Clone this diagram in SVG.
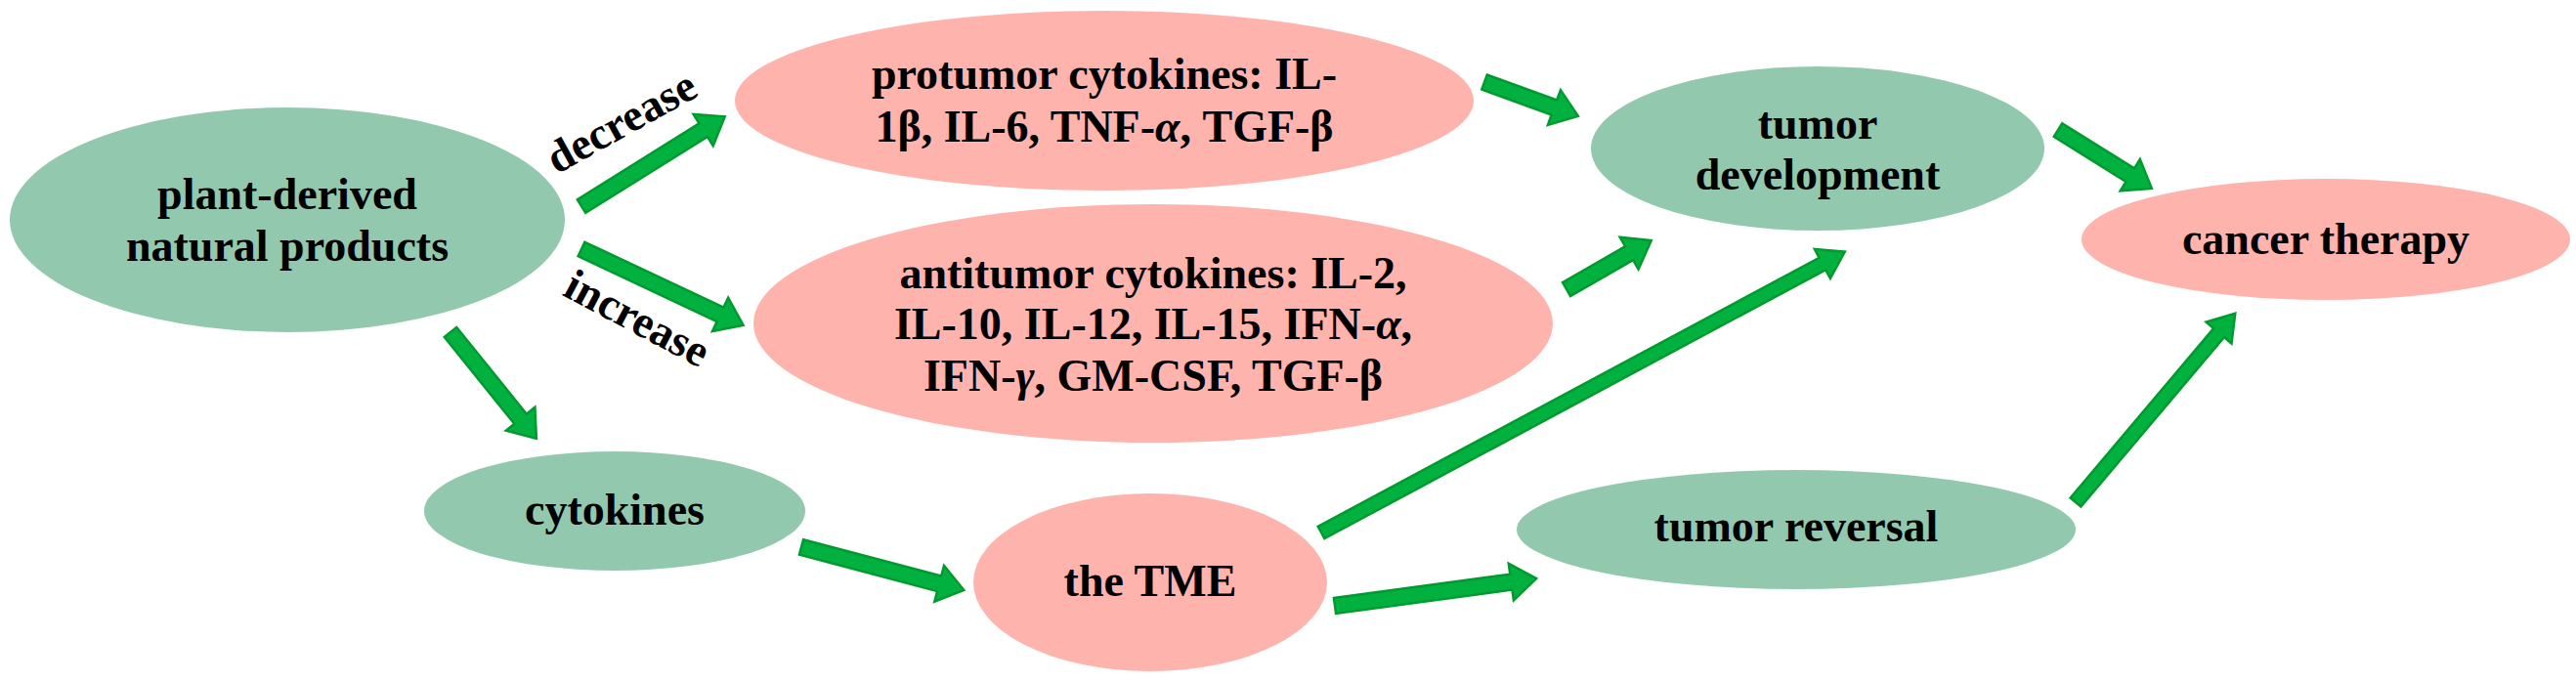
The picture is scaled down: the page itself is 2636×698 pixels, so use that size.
<svg xmlns="http://www.w3.org/2000/svg" width="2636" height="698" viewBox="0 0 2636 698">
<style>
.g{fill:#92c9ae}
.p{fill:#ffb3ad}
.t{font-family:"Liberation Serif","Times New Roman",serif;font-weight:bold;font-size:46px;fill:#000;text-anchor:middle}
.a{fill:#00b140;stroke:#009a2e;stroke-width:2.5;stroke-linejoin:miter}
.i{font-style:italic}
</style>
<rect width="2636" height="698" fill="#fff"/>
<g id="connectors">
<path class="a" transform="translate(595,211) rotate(-32)" d="M0,-8 L147,-8 L147,-19 L173,0 L147,19 L147,8 L0,8 Z"/>
<path class="a" transform="translate(595,255) rotate(25.2)" d="M0,-8 L157,-8 L157,-19 L183,0 L157,19 L157,8 L0,8 Z"/>
<path class="a" transform="translate(461,340) rotate(51.1)" d="M0,-8 L114,-8 L114,-19 L140,0 L114,19 L114,8 L0,8 Z"/>
<path class="a" transform="translate(1519,84) rotate(20)" d="M0,-8 L76,-8 L76,-19 L102,0 L76,19 L76,8 L0,8 Z"/>
<path class="a" transform="translate(1603,296) rotate(-29.9)" d="M0,-8 L74,-8 L74,-19 L100,0 L74,19 L74,8 L0,8 Z"/>
<path class="a" transform="translate(1352,545) rotate(-28.2)" d="M0,-7 L582,-7 L582,-17 L608,0 L582,17 L582,7 L0,7 Z"/>
<path class="a" transform="translate(2106,133) rotate(32)" d="M0,-8 L87,-8 L87,-19 L113,0 L87,19 L87,8 L0,8 Z"/>
<path class="a" transform="translate(820,560) rotate(14.8)" d="M0,-8 L146,-8 L146,-19 L172,0 L146,19 L146,8 L0,8 Z"/>
<path class="a" transform="translate(1366,620) rotate(-7.7)" d="M0,-8 L182,-8 L182,-19 L208,0 L182,19 L182,8 L0,8 Z"/>
<path class="a" transform="translate(2124,514) rotate(-49.8)" d="M0,-7 L227,-7 L227,-17 L253,0 L227,17 L227,7 L0,7 Z"/>
<text class="t" transform="translate(643,138) rotate(-29)">decrease</text>
<text class="t" transform="translate(645,339) rotate(28)">increase</text>
</g>
<g id="n-plant">
<ellipse class="g" cx="294" cy="225" rx="284" ry="115"/>
<text class="t" x="294" y="214">plant-derived</text>
<text class="t" x="294" y="267">natural products</text>
</g>
<g id="n-protumor">
<ellipse class="p" cx="1130" cy="103" rx="378" ry="92"/>
<text class="t" x="1130" y="91">protumor cytokines: IL-</text>
<text class="t" x="1130" y="145">1β, IL-6, TNF-<tspan class="i">α</tspan>, TGF-β</text>
</g>
<g id="n-antitumor">
<ellipse class="p" cx="1180" cy="331" rx="409" ry="122"/>
<text class="t" x="1180" y="295">antitumor cytokines: IL-2,</text>
<text class="t" x="1180" y="347">IL-10, IL-12, IL-15, IFN-<tspan class="i">α</tspan>,</text>
<text class="t" x="1180" y="400">IFN-<tspan class="i">γ</tspan>, GM-CSF, TGF-β</text>
</g>
<g id="n-tumordev">
<ellipse class="g" cx="1860" cy="152" rx="232" ry="84"/>
<text class="t" x="1860" y="142">tumor</text>
<text class="t" x="1860" y="194">development</text>
</g>
<g id="n-cancer">
<ellipse class="p" cx="2380" cy="245" rx="250" ry="62"/>
<text class="t" x="2380" y="260">cancer therapy</text>
</g>
<g id="n-cytokines">
<ellipse class="g" cx="629" cy="523" rx="195" ry="61"/>
<text class="t" x="629" y="537">cytokines</text>
</g>
<g id="n-tme">
<ellipse class="p" cx="1177" cy="596" rx="181" ry="91"/>
<text class="t" x="1177" y="610">the TME</text>
</g>
<g id="n-tumorrev">
<ellipse class="g" cx="1838" cy="542" rx="286" ry="61"/>
<text class="t" x="1838" y="554">tumor reversal</text>
</g>
</svg>
